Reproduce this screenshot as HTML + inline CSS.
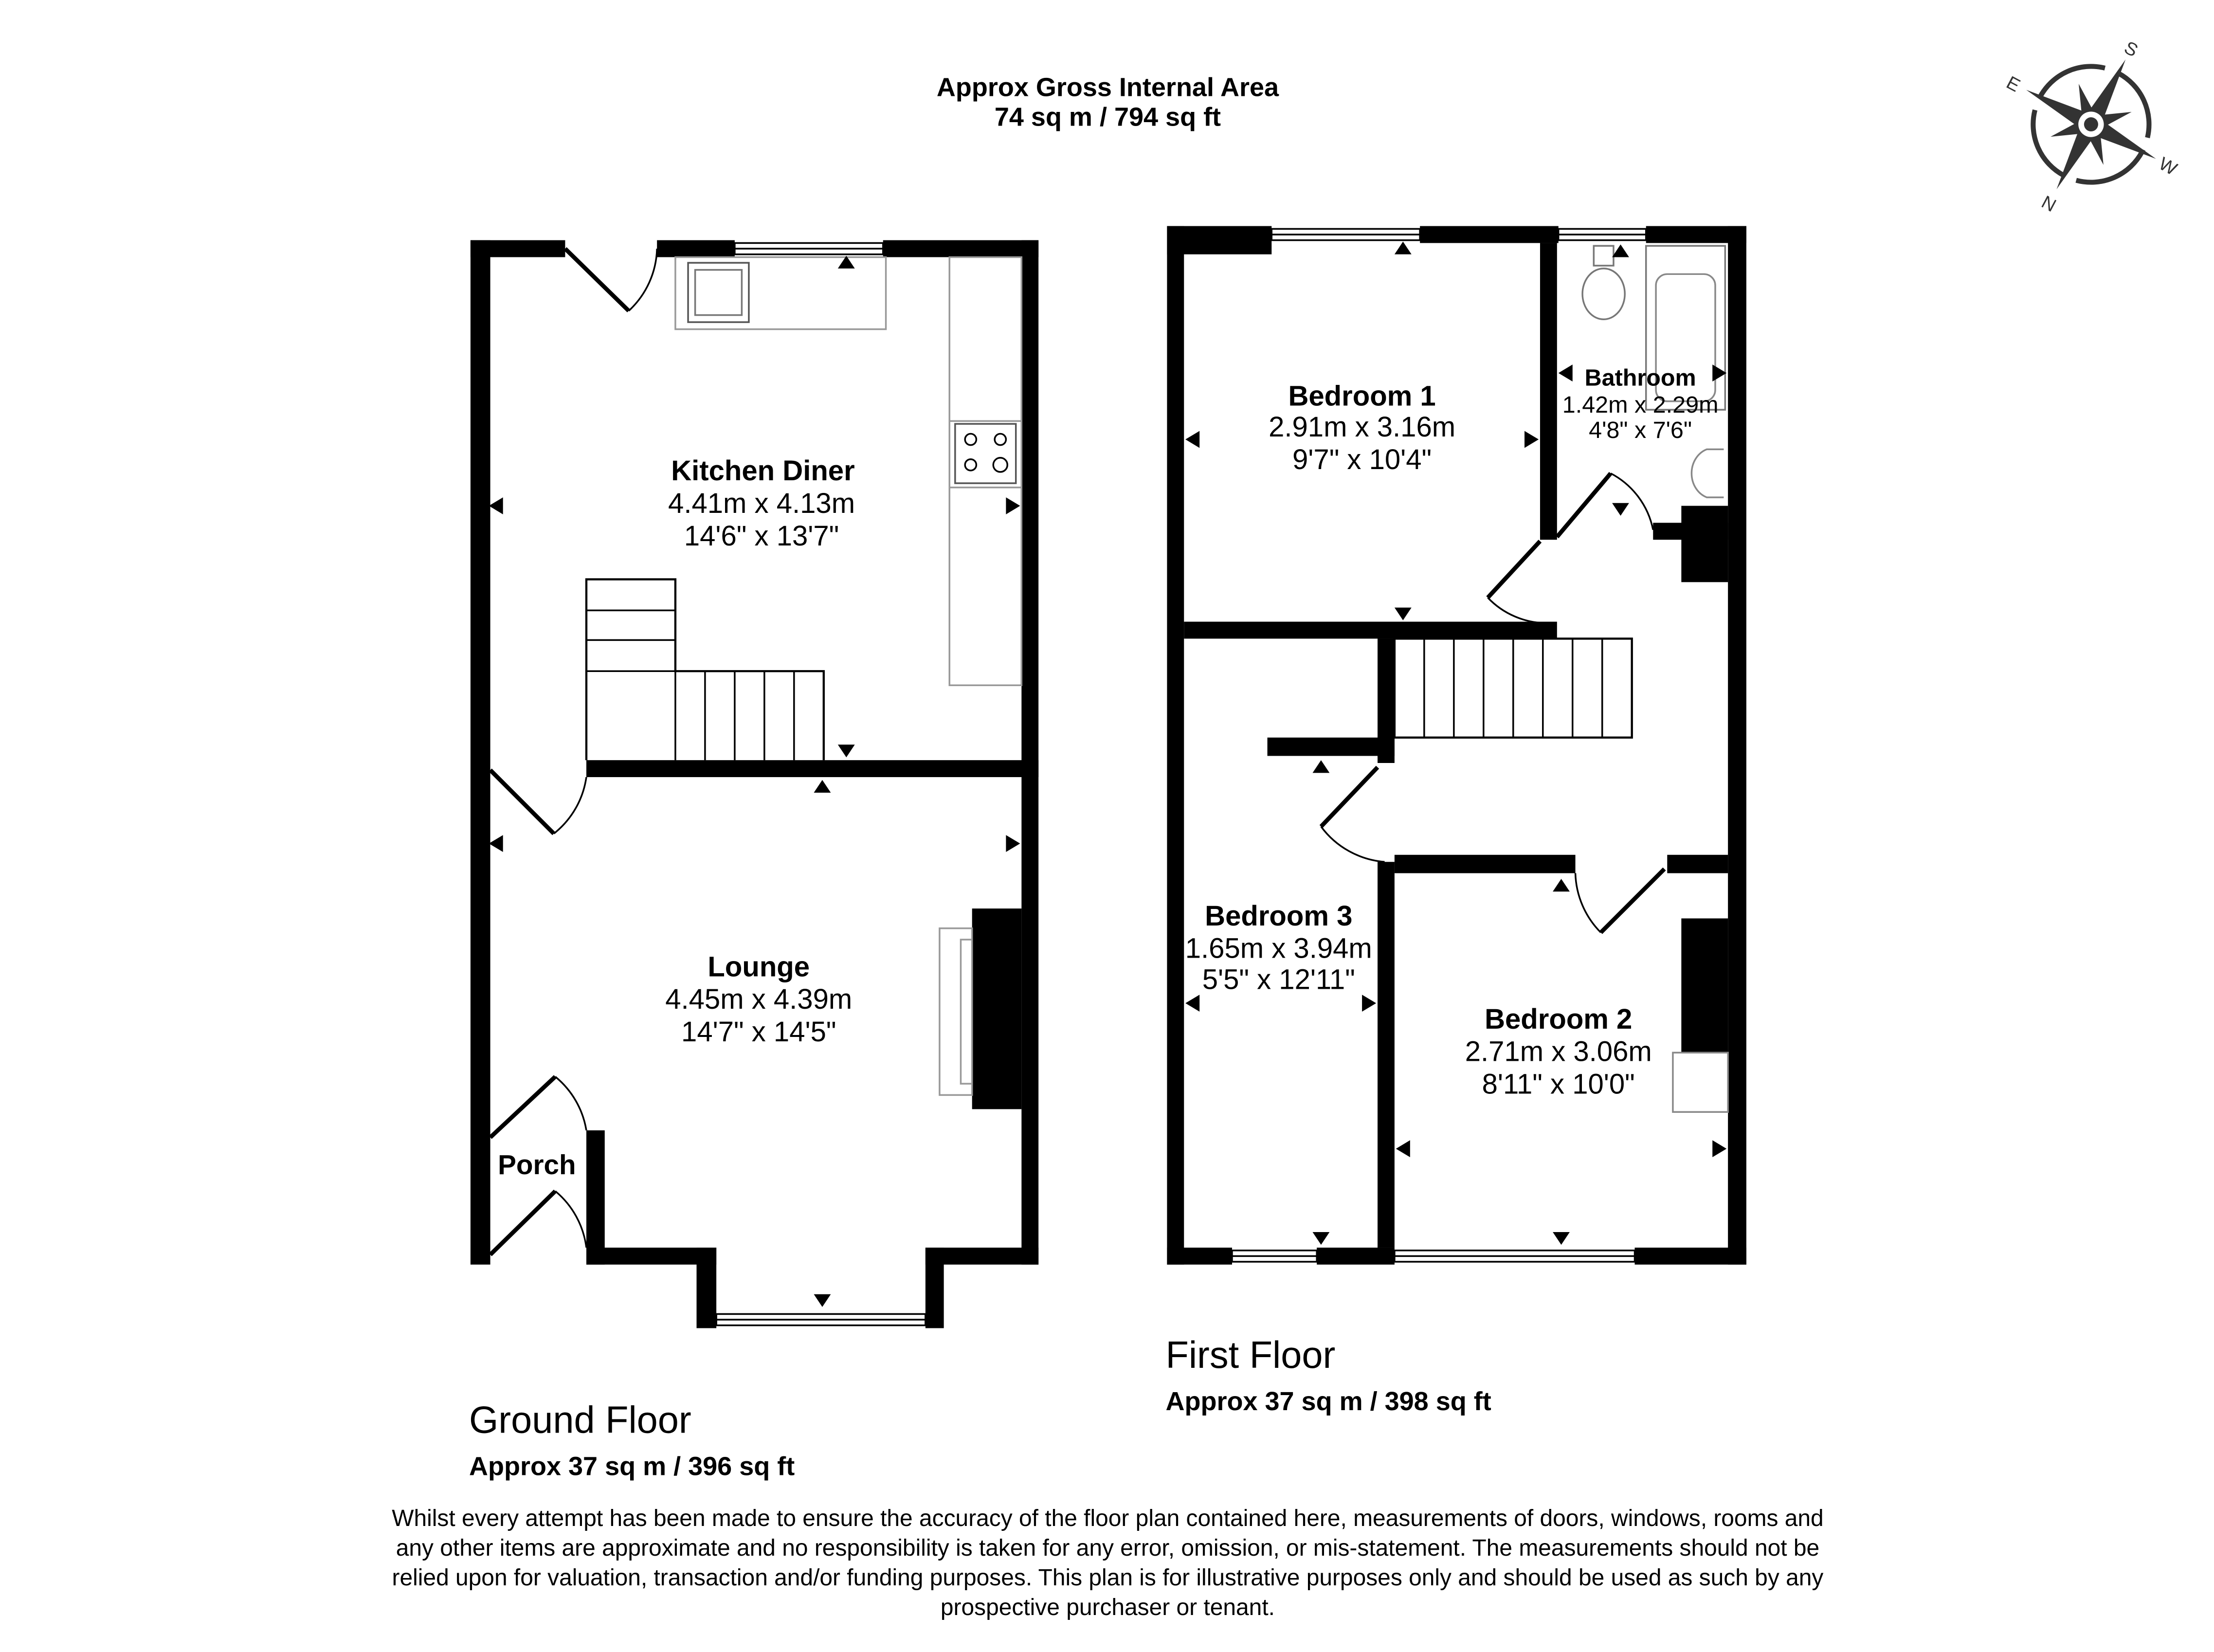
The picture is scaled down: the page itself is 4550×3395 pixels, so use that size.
<!DOCTYPE html>
<html><head><meta charset="utf-8"><style>
html,body{margin:0;padding:0;background:#fff}
svg{display:block}
text{font-family:"Liberation Sans",Arial,sans-serif;fill:#000}
.b{font-weight:bold}
</style></head><body>
<svg width="4550" height="3395" viewBox="0 0 1567 1169.2" preserveAspectRatio="none" xmlns="http://www.w3.org/2000/svg">
<rect width="1567" height="1170" fill="#fff"/>
<text x="784" y="68" text-anchor="middle" class="b" font-size="18.6">Approx Gross Internal Area</text>
<text x="784" y="89" text-anchor="middle" class="b" font-size="18.6">74 sq m / 794 sq ft</text>

<!-- compass -->
<g transform="translate(1480,88) rotate(28)" fill="#333">
<circle r="41" fill="none" stroke="#333" stroke-width="3.5" stroke-dasharray="55 9"/>
<polygon points="0,-52 6,-6 0,0 -6,-6"/><polygon points="0,52 6,6 0,0 -6,6"/>
<polygon points="-52,0 -6,6 0,0 -6,-6"/><polygon points="52,0 6,6 0,0 6,-6"/>
<g transform="rotate(45)"><polygon points="0,-30 5,-5 -5,-5"/><polygon points="0,30 5,5 -5,5"/><polygon points="-30,0 -5,5 -5,-5"/><polygon points="30,0 5,5 5,-5"/></g>
<circle r="10" fill="#fff" stroke="#333" stroke-width="2"/><circle r="5"/>
<text x="0" y="-56" text-anchor="middle" font-size="13" style="fill:#333">S</text>
<text x="0" y="68" text-anchor="middle" font-size="13" style="fill:#333">N</text>
<text x="-62" y="5" text-anchor="middle" font-size="13" style="fill:#333">E</text>
<text x="62" y="5" text-anchor="middle" font-size="13" style="fill:#333">W</text>
</g>

<!-- GROUND FLOOR -->
<g fill="#000">
<rect x="333" y="170" width="14" height="725"/>
<rect x="333" y="170" width="67" height="12"/>
<rect x="465" y="170" width="55" height="12"/>
<rect x="625" y="170" width="110" height="12"/>
<rect x="723" y="170" width="12" height="725"/>
<rect x="415" y="538" width="320" height="12"/>
<rect x="415" y="800" width="13" height="95"/>
<rect x="415" y="883" width="92" height="12"/>
<rect x="655" y="883" width="80" height="12"/>
<rect x="493" y="883" width="14" height="57"/>
<rect x="655" y="883" width="13" height="57"/>
<rect x="688" y="643" width="35" height="142"/>
</g>
<g fill="none" stroke="#000" stroke-width="1.2">
<rect x="520" y="172" width="105" height="8"/><line x1="520" y1="176" x2="625" y2="176"/>
<rect x="507" y="930" width="148" height="8"/><line x1="507" y1="934" x2="655" y2="934"/>
<rect x="495" y="895" width="10" height="35"/><rect x="657" y="895" width="9" height="35"/>
<rect x="478" y="182" width="149" height="51" stroke="#999"/>
<rect x="487" y="186" width="43" height="42" stroke="#555"/><rect x="492" y="191" width="33" height="32" stroke="#777"/>
<rect x="672" y="182" width="51" height="303" stroke="#999"/>
<line x1="672" y1="298" x2="723" y2="298" stroke="#999"/><line x1="672" y1="345" x2="723" y2="345" stroke="#999"/>
<rect x="676" y="300" width="43" height="42" stroke="#555"/>
<circle cx="687" cy="311" r="4"/><circle cx="708" cy="311" r="4"/><circle cx="687" cy="329" r="4"/><circle cx="708" cy="329" r="5"/>
<rect x="665" y="657" width="23" height="118" stroke="#999"/><rect x="680" y="665" width="8" height="102" stroke="#999"/>
<polyline points="415,538 415,410 478,410 478,475 583,475 583,538" stroke-width="1.5"/>
<line x1="415" y1="432" x2="478" y2="432"/><line x1="415" y1="453" x2="478" y2="453"/><line x1="415" y1="475" x2="478" y2="475"/>
<line x1="478" y1="475" x2="478" y2="538"/><line x1="499" y1="475" x2="499" y2="538"/><line x1="520" y1="475" x2="520" y2="538"/><line x1="541" y1="475" x2="541" y2="538"/><line x1="562" y1="475" x2="562" y2="538"/>
<line x1="400" y1="176" x2="445" y2="220" stroke-width="3"/><path d="M445,220 A62,62 0 0 0 465,176"/>
<line x1="347" y1="545" x2="392" y2="590" stroke-width="3"/><path d="M392,590 A62,62 0 0 0 415,550"/>
<line x1="347" y1="805" x2="393" y2="762" stroke-width="3"/><path d="M393,762 A62,62 0 0 1 415,800"/>
<line x1="347" y1="888" x2="393" y2="843" stroke-width="3"/><path d="M393,843 A62,62 0 0 1 415,883"/>
</g>
<g fill="#000">
<polygon points="593,190 605,190 599,181"/><polygon points="593,527 605,527 599,536"/><polygon points="576,561 588,561 582,552"/>
<polygon points="346,358 356,352 356,364"/><polygon points="722,358 712,352 712,364"/>
<polygon points="346,597 356,591 356,603"/><polygon points="722,597 712,591 712,603"/>
<polygon points="576,916 588,916 582,925"/>
</g>
<text x="540" y="340" text-anchor="middle" class="b" font-size="20">Kitchen Diner</text>
<text x="539" y="363" text-anchor="middle" font-size="20">4.41m x 4.13m</text>
<text x="539" y="386" text-anchor="middle" font-size="20">14'6" x 13'7"</text>
<text x="537" y="691" text-anchor="middle" class="b" font-size="20">Lounge</text>
<text x="537" y="714" text-anchor="middle" font-size="20">4.45m x 4.39m</text>
<text x="537" y="737" text-anchor="middle" font-size="20">14'7" x 14'5"</text>
<text x="380" y="831" text-anchor="middle" class="b" font-size="19.5">Porch</text>
<text x="332" y="1014" font-size="26.7">Ground Floor</text>
<text x="332" y="1044" class="b" font-size="18.6">Approx 37 sq m / 396 sq ft</text>

<!-- FIRST FLOOR -->
<g fill="#000">
<rect x="826" y="160" width="12" height="735"/>
<rect x="1223" y="160" width="13" height="735"/>
<rect x="826" y="160" width="74" height="20"/>
<rect x="1005" y="160" width="98" height="12"/>
<rect x="1165" y="160" width="71" height="12"/>
<rect x="826" y="883" width="46" height="12"/>
<rect x="932" y="883" width="55" height="12"/>
<rect x="1157" y="883" width="79" height="12"/>
<rect x="838" y="440" width="264" height="12"/>
<rect x="1090" y="172" width="12" height="210"/>
<rect x="1170" y="370" width="53" height="12"/>
<rect x="1190" y="358" width="33" height="54"/>
<rect x="975" y="452" width="12" height="88"/>
<rect x="897" y="522" width="90" height="13"/>
<rect x="975" y="610" width="12" height="273"/>
<rect x="987" y="605" width="128" height="13"/>
<rect x="1180" y="605" width="43" height="13"/>
<rect x="1190" y="650" width="33" height="95"/>
</g>
<g fill="none" stroke="#000" stroke-width="1.2">
<rect x="900" y="162" width="105" height="8"/><line x1="900" y1="166" x2="1005" y2="166"/>
<rect x="1103" y="162" width="62" height="8"/><line x1="1103" y1="166" x2="1165" y2="166"/>
<rect x="872" y="885" width="60" height="8"/><line x1="872" y1="889" x2="932" y2="889"/>
<rect x="987" y="885" width="170" height="8"/><line x1="987" y1="889" x2="1157" y2="889"/>
<rect x="987" y="452" width="168" height="70" stroke-width="1.5"/>
<line x1="1008" y1="452" x2="1008" y2="522"/><line x1="1029" y1="452" x2="1029" y2="522"/><line x1="1050" y1="452" x2="1050" y2="522"/><line x1="1071" y1="452" x2="1071" y2="522"/><line x1="1092" y1="452" x2="1092" y2="522"/><line x1="1113" y1="452" x2="1113" y2="522"/><line x1="1134" y1="452" x2="1134" y2="522"/>
<rect x="1165" y="174" width="56" height="116" stroke="#777"/><rect x="1172" y="194" width="42" height="90" rx="8" stroke="#888"/>
<rect x="1128" y="174" width="14" height="14" stroke="#777"/><ellipse cx="1135" cy="208" rx="15" ry="18" stroke="#777"/>
<path d="M1220,318 L1208,318 A16,18 0 0 0 1208,352 L1220,352" stroke="#888"/>
<rect x="1184" y="745" width="39" height="42" stroke="#888"/>
<line x1="1102" y1="380" x2="1140" y2="335" stroke-width="3"/><path d="M1140,335 A58,58 0 0 1 1170,375"/>
<line x1="1090" y1="383" x2="1053" y2="423" stroke-width="3"/><path d="M1053,423 A58,58 0 0 0 1095,441"/>
<line x1="975" y1="543" x2="935" y2="585" stroke-width="3"/><path d="M935,585 A62,62 0 0 0 980,610"/>
<line x1="1133" y1="660" x2="1178" y2="615" stroke-width="3"/><path d="M1133,660 A62,62 0 0 1 1115,618"/>
</g>
<g fill="#000">
<polygon points="987,180 999,180 993,171"/><polygon points="1141,182 1153,182 1147,173"/>
<polygon points="839,311 849,305 849,317"/><polygon points="1089,311 1079,305 1079,317"/>
<polygon points="1103,264 1113,258 1113,270"/><polygon points="1222,264 1212,258 1212,270"/>
<polygon points="1141,356 1153,356 1147,365"/>
<polygon points="987,430 999,430 993,439"/>
<polygon points="929,547 941,547 935,538"/>
<polygon points="839,710 849,704 849,716"/><polygon points="974,710 964,704 964,716"/>
<polygon points="929,872 941,872 935,881"/>
<polygon points="1099,631 1111,631 1105,622"/>
<polygon points="988,813 998,807 998,819"/><polygon points="1222,813 1212,807 1212,819"/>
<polygon points="1099,872 1111,872 1105,881"/>
</g>
<text x="964" y="287" text-anchor="middle" class="b" font-size="20">Bedroom 1</text>
<text x="964" y="309" text-anchor="middle" font-size="20">2.91m x 3.16m</text>
<text x="964" y="332" text-anchor="middle" font-size="20">9'7" x 10'4"</text>
<text x="1161" y="273" text-anchor="middle" class="b" font-size="16.7">Bathroom</text>
<text x="1161" y="292" text-anchor="middle" font-size="16.7">1.42m x 2.29m</text>
<text x="1161" y="310" text-anchor="middle" font-size="16.7">4'8" x 7'6"</text>
<text x="905" y="655" text-anchor="middle" class="b" font-size="20">Bedroom 3</text>
<text x="905" y="678" text-anchor="middle" font-size="20">1.65m x 3.94m</text>
<text x="905" y="700" text-anchor="middle" font-size="20">5'5" x 12'11"</text>
<text x="1103" y="728" text-anchor="middle" class="b" font-size="20">Bedroom 2</text>
<text x="1103" y="751" text-anchor="middle" font-size="20">2.71m x 3.06m</text>
<text x="1103" y="774" text-anchor="middle" font-size="20">8'11" x 10'0"</text>
<text x="825" y="968" font-size="26.7">First Floor</text>
<text x="825" y="998" class="b" font-size="18.6">Approx 37 sq m / 398 sq ft</text>

<g font-size="16.5" text-anchor="middle">
<text x="784" y="1080">Whilst every attempt has been made to ensure the accuracy of the floor plan contained here, measurements of doors, windows, rooms and</text>
<text x="784" y="1101">any other items are approximate and no responsibility is taken for any error, omission, or mis-statement. The measurements should not be</text>
<text x="784" y="1122">relied upon for valuation, transaction and/or funding purposes. This plan is for illustrative purposes only and should be used as such by any</text>
<text x="784" y="1143">prospective purchaser or tenant.</text>
</g>
</svg>
</body></html>
